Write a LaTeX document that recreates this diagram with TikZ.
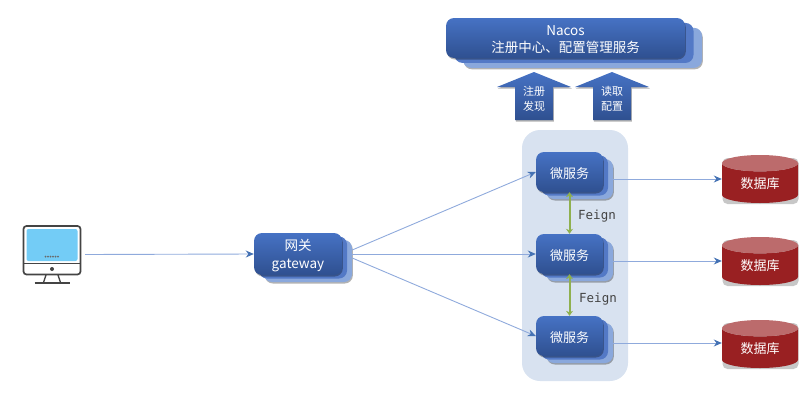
\documentclass[tikz,border=0pt]{standalone}
\usepackage{fontspec}
\setmainfont{Noto Sans CJK SC}
\newfontfamily\feignfont{DejaVu Sans Mono}
\usetikzlibrary{shapes.geometric,shadows,arrows.meta}
\definecolor{blueT}{HTML}{4672C4}
\definecolor{blueB}{HTML}{2F5090}
\definecolor{blueM}{HTML}{5379C6}
\definecolor{blueL}{HTML}{8AA8DC}
\definecolor{panelc}{HTML}{D8E2F0}
\definecolor{linec}{HTML}{8FAADC}
\definecolor{tipc}{HTML}{4472B4}
\definecolor{feignc}{HTML}{8FB04F}
\definecolor{dbred}{HTML}{992022}
\definecolor{dbtop}{HTML}{BC6B6C}
\definecolor{screen}{HTML}{73CCF6}
\definecolor{mono}{HTML}{444444}
\tikzset{
  softshadow/.style={drop shadow={opacity=.3,shadow xshift=.8pt,shadow yshift=-1.5pt,fill=black}},
  front/.style={rounded corners=8pt,top color=blueT,bottom color=blueB,inner sep=0pt,softshadow},
  midb/.style={rounded corners=8pt,fill=blueM,inner sep=0pt},
  backb/.style={rounded corners=8pt,fill=blueL,inner sep=0pt,softshadow},
  flow/.style={draw=linec,line width=.9pt,-{Stealth[length=8pt,width=7pt,color=tipc]}},
  feignl/.style={draw=feignc,line width=2pt,{Stealth[length=5pt,width=7pt]}-{Stealth[length=5pt,width=7pt]}},
  feigntxt/.style={text=mono,font=\feignfont\fontsize{12.5}{14}\selectfont,inner sep=0pt},
  db/.style={shape=cylinder,shape border rotate=90,aspect=.42,minimum width=76pt,minimum height=48pt,inner sep=0pt,
    anchor=shape center,cylinder uses custom fill,cylinder body fill=dbred,cylinder end fill=dbtop,text=white,
    font=\fontsize{13}{16}\selectfont},
  dbshadow/.style={fill=black,opacity=.22,rounded corners=5pt,minimum width=76pt,minimum height=46pt,inner sep=0pt},
  uparrow/.style={top color=blueT,bottom color=blueB,softshadow},
  uplabel/.style={text=white,align=center,inner sep=0pt,font=\fontsize{11}{14.5}\selectfont},
  nacosfont/.style={font=\fontsize{13.5}{16.5}\selectfont},
  gwfont/.style={font=\fontsize{13.5}{18}\selectfont},
  msfont/.style={font=\fontsize{13}{17}\selectfont},
}
% name, x1, y1, x2, y2 of front box, offset, text style, text
\newcommand\stackbox[8]{%
  \pgfmathsetmacro\bw{#4-#2}\pgfmathsetmacro\bh{#5-#3}%
  \pgfmathsetmacro\bx{(#2+#4)/2}\pgfmathsetmacro\by{(#3+#5)/2}%
  \node[backb,minimum width=\bw pt,minimum height=\bh pt] (#1back) at (\bx+2*#6,\by+1.6*#6/2+3) {};
  \node[midb,minimum width=\bw pt,minimum height=\bh pt] (#1mid) at (\bx+#6,\by+.8*#6/2+1.5) {};
  \node[front,minimum width=\bw pt,minimum height=\bh pt,
    label={[text=white,align=center,inner sep=0pt,#7,yshift=-1.5pt]center:#8}] (#1) at (\bx,\by) {};
}
\begin{document}
\begin{tikzpicture}[x=1pt,y=-1pt]
\useasboundingbox (0,0) rectangle (811,410);
% panel
\node[fill=panelc,rounded corners=18pt,minimum width=106pt,minimum height=251pt,inner sep=0pt] (panel) at (575,255.5) {};
% monitor
\draw[mono,line width=1.7pt,rounded corners=3pt,fill=white] (23.5,226) rectangle (80.5,274.5);
\node[fill=screen,rounded corners=2pt,minimum width=51pt,minimum height=32pt,inner sep=0pt] (scr) at (52,245) {};
\draw[mono,line width=1.4pt] (23.5,263.5) -- (80.5,263.5);
\foreach \i in {45.5,48,50.5,53,55.5,58} \fill[mono!80] (\i,256.7) circle (1pt);
\fill[mono] (52,269) circle (2pt);
\draw[mono,line width=1.4pt] (46,275) -- (43.5,282.5) (58,275) -- (60.5,282.5);
\draw[mono,line width=1.6pt] (34.5,282.8) -- (70,282.8);
\coordinate (pc) at (85,254.5);
% Nacos
\stackbox{nacos}{446}{18}{685}{58}{8.5}{nacosfont}{Nacos\\注册中心、配置管理服务}
% gateway
\stackbox{gw}{254}{233}{342}{275}{5}{gwfont}{网关\\gateway}
% services
\stackbox{ms1}{536}{152}{603}{192}{5}{msfont}{微服务}
\stackbox{ms2}{536}{234}{603}{274}{5}{msfont}{微服务}
\stackbox{ms3}{536}{316}{603}{356}{5}{msfont}{微服务}
% up arrows
\path[uparrow] (534,72) -- (571,87) -- (553,87) -- (553,120) -- (515,120) -- (515,87) -- (497,87) -- cycle;
\path[uparrow] (612,72) -- (649,87) -- (631,87) -- (631,120) -- (593,120) -- (593,87) -- (575,87) -- cycle;
\node[uplabel] (reg) at (534,99) {注册\\发现};
\node[uplabel] (cfg) at (612,99) {读取\\配置};
% databases
\node[dbshadow] (db1s) at (760.5,181) {};
\node[dbshadow] (db2s) at (760.5,263) {};
\node[dbshadow] (db3s) at (760.5,346) {};
\node[db] (db1) at (760,179) {数据库};
\node[db] (db2) at (760,261) {数据库};
\node[db] (db3) at (760,344) {数据库};
% connectors
\draw[flow] (pc) -- (gw.west);
\draw[flow] (gw.east) ++(10,-4) -- (ms1.west);
\draw[flow] (gw.east) ++(10,0) -- (ms2.west);
\draw[flow] (gw.east) ++(10,4) -- (ms3.west);
\draw[flow] (ms1back.east) -- (ms1back.east -| db1.west);
\draw[flow] (ms2back.east) -- (ms2back.east -| db2.west);
\draw[flow] (ms3back.east) -- (ms3back.east -| db3.west);
\draw[feignl] (ms1.south) -- (ms2.north);
\draw[feignl] (ms2.south) -- (ms3.north);
\node[feigntxt] (f1) at (597,216) {Feign};
\node[feigntxt] (f2) at (598,299) {Feign};
\end{tikzpicture}
\end{document}
